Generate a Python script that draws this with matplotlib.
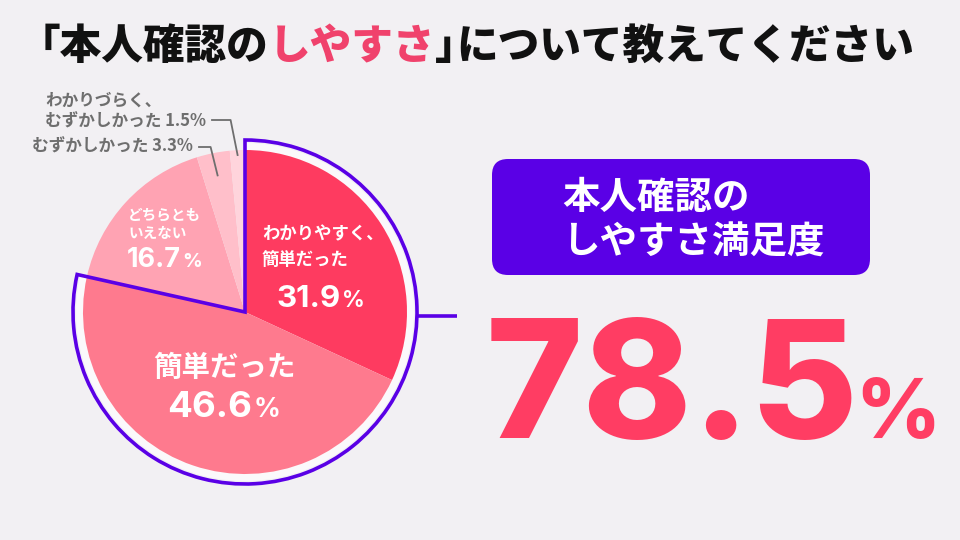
import matplotlib.pyplot as plt
from matplotlib.patches import Wedge, FancyBboxPatch
import numpy as np

plt.rcParams['font.family'] = ['Noto Sans CJK JP', 'DejaVu Sans']
NUM_FONT = ['Inter', 'DejaVu Sans']

BG = '#f2f0f3'
PURPLE = '#5a00e6'
RED = '#ff3d63'
GRAY = '#6e6e6e'

# data
labels = ['わかりやすく、\n簡単だった', '簡単だった', 'どちらとも\nいえない',
          'むずかしかった', 'わかりづらく、\nむずかしかった']
values = [31.9, 46.6, 16.7, 3.3, 1.5]
colors = ['#fe3b60', '#fe7a8e', '#ffa3b3', '#ffbfca', '#ffd4dc']
satisfied = round(values[0] + values[1], 1)   # 78.5

title_parts = ['「本人確認の', 'しやすさ', '｣', 'について教えてください']
title_colors = ['#111111', '#f0426c', '#111111', '#111111']
box_lines = ['本人確認の', 'しやすさ満足度']

H = 540
fig = plt.figure(figsize=(9.6, 5.4), dpi=100, facecolor=BG)
ax = fig.add_axes([0, 0, 1, 1])
ax.set_facecolor(BG)
renderer = fig.canvas.get_renderer()

# pie
cx, cy, R = 245, H - 312, 162
span = satisfied / 100 * 360
ax.add_patch(Wedge((cx, cy), 169, 90 - span, 90, facecolor='#fbf9fb',
                   edgecolor='none', zorder=1))
wedges, _ = ax.pie(values, colors=colors, startangle=90, counterclock=False,
                   center=(cx, cy), radius=R, wedgeprops=dict(linewidth=0),
                   frame=True)
ax.add_patch(Wedge((cx, cy), 172, 90 - span, 90, fill=False,
                   edgecolor=PURPLE, linewidth=2.6, zorder=3))
ax.plot([cx + 172, 457], [cy - 4, cy - 4], color=PURPLE, lw=2.6, zorder=3,
        solid_capstyle='butt')

ax.set_xlim(0, 960)
ax.set_ylim(0, H)
ax.set_aspect('auto')
ax.axis('off')


def num_pct(x, y, val, size, color, pct_scale=0.72, ha='left', weight='bold',
            gap=0.06):
    t = ax.text(x, y, f'{val}', fontsize=size, color=color, family=NUM_FONT,
                fontweight=weight, ha='left', va='baseline', zorder=5)
    bb = t.get_window_extent(renderer=renderer)
    p = ax.text(bb.x1 + size * gap, y, '%', fontsize=size * pct_scale,
                color=color, family=NUM_FONT, fontweight=weight,
                ha='left', va='baseline', zorder=5)
    if ha == 'center':
        pb = p.get_window_extent(renderer=renderer)
        shift = (pb.x1 - bb.x0) / 2
        t.set_x(x - shift)
        p.set_x(bb.x1 + size * gap - shift)
    return t


def lines_text(x, ys, text, size, color, ha='left'):
    for line, yy in zip(text.split('\n'), ys):
        ax.text(x, H - yy, line, fontsize=size, color=color, fontweight='bold',
                ha=ha, va='center', zorder=5)


# inside labels
lines_text(262, [234, 260], labels[0], 12.5, 'white')
num_pct(276, H - 307, values[0], 22.5, 'white')
lines_text(224, [368], labels[1], 20.5, 'white', ha='center')
num_pct(224, H - 417, values[1], 26.5, 'white', ha='center')
lines_text(128, [215, 233], labels[2], 10.5, 'white')
num_pct(127, H - 267, values[2], 19.5, 'white')

# outside labels with leader lines
for i, (tx, ty, elbow_y) in zip([4, 3], [(206, 111, 120), (193, 147, 147)]):
    theta = np.deg2rad((wedges[i].theta1 + wedges[i].theta2) / 2)
    r = R * (0.97 if i == 4 else 0.86)
    px, py = cx + r * np.cos(theta), cy + r * np.sin(theta)
    ex = px - 7
    ax.plot([px, ex, tx + 6], [py, H - elbow_y, H - elbow_y], color=GRAY,
            lw=1.3, zorder=4)
    ax.text(tx, H - ty, f'{labels[i]} {values[i]}%', fontsize=12, color=GRAY,
            fontweight='bold', ha='right', va='center', multialignment='left',
            linespacing=1.2, zorder=5)

# title
x = 19
for part, col in zip(title_parts, title_colors):
    t = ax.text(x, H - 59, part, fontsize=30, color=col, fontweight=900,
                ha='left', va='baseline')
    x = t.get_window_extent(renderer=renderer).x1

# satisfaction box
ax.add_patch(FancyBboxPatch((492, H - 275), 378, 116,
                            boxstyle='round,pad=0,rounding_size=16',
                            facecolor=PURPLE, edgecolor='none', zorder=2))
for line, yy in zip(box_lines, [197, 242]):
    ax.text(562, H - yy, line, fontsize=27, color='white', fontweight='bold',
            ha='left', va='center', zorder=3)

# big number
num_pct(486, H - 438, satisfied, 119, RED, pct_scale=0.5, weight=800,
        gap=-0.03)

fig.savefig('out.png', dpi=100, facecolor=BG)
